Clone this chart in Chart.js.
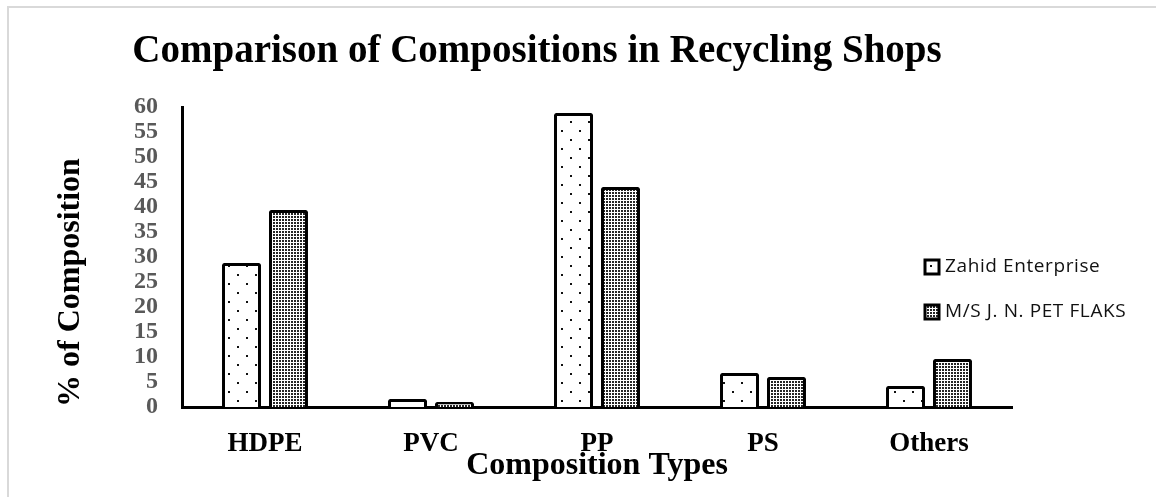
<!DOCTYPE html>
<html>
<head>
<meta charset="utf-8">
<script src="https://cdn.jsdelivr.net/npm/chart.js@4"></script>
<style>
  body { margin: 0; background: #fff; overflow: hidden; }
  #wrap { position: relative; width: 1156px; height: 497px; overflow: hidden; }
  #frame { position: absolute; left: 7px; top: 6px; width: 1300px; height: 700px;
           border: 2px solid #d9d9d9; pointer-events: none; }
</style>
</head>
<body>
<div id="wrap">
  <div id="frame"></div>
  <canvas id="compChart" width="1156" height="497"></canvas>
</div>
<script>
const categories = ['HDPE', 'PVC', 'PP', 'PS', 'Others'];
const seriesNames = ['Zahid Enterprise', 'M/S J. N. PET FLAKS'];
const zahidValues = [28.8, 1.6, 58.8, 6.8, 4.2];
const jnValues = [39.4, 1.0, 44.0, 6.0, 9.6];
const yTicks = [0, 5, 10, 15, 20, 25, 30, 35, 40, 45, 50, 55, 60];

const serif = '"Liberation Serif", "Times New Roman", serif';

// sparse staggered dots
function sparseDots() {
  const c = document.createElement('canvas');
  c.width = 18; c.height = 18;
  const g = c.getContext('2d');
  g.fillStyle = '#fff';
  g.fillRect(0, 0, 18, 18);
  g.fillStyle = '#111';
  g.fillRect(3, 4, 2, 2);
  g.fillRect(12, 13, 2, 2);
  return g.createPattern(c, 'repeat');
}

// dense dot grid
function denseDots() {
  const c = document.createElement('canvas');
  c.width = 3; c.height = 3;
  const g = c.getContext('2d');
  g.fillStyle = '#fff';
  g.fillRect(0, 0, 3, 3);
  g.fillStyle = '#262626';
  g.fillRect(0, 0, 2, 2);
  return g.createPattern(c, 'repeat');
}

const fills = [sparseDots(), denseDots()];

// chart title, placed like the original
const titlePlugin = {
  id: 'bigTitle',
  afterDraw(chart) {
    const ctx = chart.ctx;
    ctx.save();
    ctx.font = 'bold 39px ' + serif;
    ctx.fillStyle = '#000';
    ctx.textAlign = 'center';
    ctx.textBaseline = 'middle';
    ctx.fillText('Comparison of Compositions in Recycling Shops', 537, 52);
    ctx.restore();
  }
};

// legend on top of the plot, right side
const legendPlugin = {
  id: 'sideLegend',
  afterDraw(chart) {
    const ctx = chart.ctx;
    ctx.save();
    ctx.font = '19px "Open Sans", "Noto Sans", sans-serif';
    ctx.letterSpacing = '0.6px';
    ctx.textBaseline = 'middle';
    const rows = [267, 312];
    seriesNames.forEach((name, i) => {
      const y = rows[i];
      ctx.fillStyle = fills[i];
      ctx.fillRect(925, y - 7, 14, 14);
      ctx.lineWidth = 3;
      ctx.strokeStyle = '#000';
      ctx.strokeRect(925, y - 7, 14, 14);
      ctx.fillStyle = '#111';
      ctx.fillText(name, 945, y);
    });
    ctx.restore();
  }
};

new Chart(document.getElementById('compChart'), {
  type: 'bar',
  data: {
    labels: categories,
    datasets: [{
      label: seriesNames[0],
      data: zahidValues,
      backgroundColor: fills[0],
      borderColor: '#000',
      borderWidth: 3,
      borderRadius: 2
    }, {
      label: seriesNames[1],
      data: jnValues,
      backgroundColor: fills[1],
      borderColor: '#000',
      borderWidth: 3,
      borderRadius: 2
    }]
  },
  options: {
    responsive: false,
    animation: false,
    categoryPercentage: 0.566,
    barPercentage: 0.83,
    layout: { padding: { top: 107, right: 144, bottom: 0, left: 0 } },
    plugins: {
      legend: { display: false },
      tooltip: { enabled: false }
    },
    scales: {
      x: {
        grid: { display: false, drawTicks: false },
        border: { color: '#000', width: 3 },
        ticks: {
          color: '#000',
          padding: 21,
          font: { family: serif, size: 27, weight: 'bold' }
        },
        title: {
          display: true,
          text: 'Composition Types',
          color: '#000',
          padding: { top: 0, bottom: 12 },
          font: { family: serif, size: 32, weight: 'bold' }
        },
        afterFit(scale) { scale.height = 90; }
      },
      y: {
        min: 0,
        max: 60,
        afterBuildTicks(scale) { scale.ticks = yTicks.map(v => ({ value: v })); },
        grid: { display: false, drawTicks: false },
        border: { color: '#000', width: 3 },
        ticks: {
          color: '#595959',
          padding: 24,
          autoSkip: false,
          font: { family: serif, size: 24, weight: 'bold' }
        },
        title: {
          display: true,
          text: '% of Composition',
          color: '#000',
          align: 'start',
          padding: { top: 52, bottom: 0 },
          font: { family: serif, size: 32, weight: 'bold' }
        },
        afterFit(scale) { scale.width = 182; }
      }
    }
  },
  plugins: [titlePlugin, legendPlugin]
});
</script>
</body>
</html>
